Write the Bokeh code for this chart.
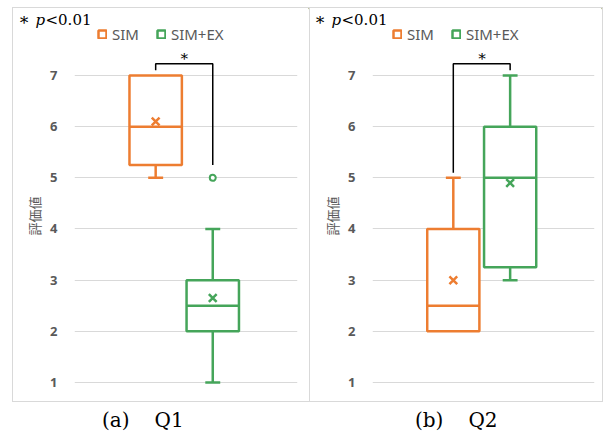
from bokeh.plotting import figure
from bokeh.models import Range1d, FixedTicker, Legend, LegendItem, Label, Div
from bokeh.layouts import row, column
from bokeh.embed import file_html
from bokeh.resources import INLINE
from bokeh.core.properties import value

# ---------------- data ----------------
series = ["SIM", "SIM+EX"]
colors = ["#ED7D31", "#45A55A"]

# Q1 panel
q1_low = [5, 1]
q1_box_lo = [5.25, 2]
q1_median = [6, 2.5]
q1_box_hi = [7, 3]
q1_high = [7, 4]
q1_mean = [6.1, 2.65]
q1_outliers = [[], [5]]
q1_bracket = [7.1, 7.23, 7.23, 5.25]

# Q2 panel
q2_low = [2, 3]
q2_box_lo = [2, 3.25]
q2_median = [2.5, 5]
q2_box_hi = [4, 6]
q2_high = [5, 7]
q2_mean = [3, 4.9]
q2_outliers = [[], []]
q2_bracket = [5.1, 7.23, 7.23, 7.1]

y_ticks = [1, 2, 3, 4, 5, 6, 7]
star_y = 7.39
captions = ["(a)\u3000\u2005Q1", "(b)\u3000\u2005Q2"]
note_parts = ["\u2217", "p", "<0.01"]

# ---------------- layout constants ----------------
CENTER = 0.492
DODGE = 0.128
BOX_W = 0.235
CAP_W = 0.067
GRAY = "#595959"
HEAD_H = 36
MAIN_H = 357
BOTTOM = 14


def header(width, legend_x, note_x):
    h = figure(width=width, height=HEAD_H, output_backend="svg", toolbar_location=None,
               x_range=Range1d(0, 1), y_range=Range1d(0, 1), min_border=0,
               x_axis_location=None, y_axis_location=None, frame_align=False)
    h.outline_line_color = None
    h.grid.visible = False
    # legend-only renderers (their single box lies outside the visible range)
    rs = [h.vbar(x=[5], bottom=[5], top=[6], width=0.1, fill_color="white",
                 line_color=c, line_width=2.5) for c in colors]
    legend = Legend(items=[LegendItem(label=s, renderers=[rs[i]]) for i, s in enumerate(series)],
                    orientation="horizontal", location=(legend_x, 0),
                    background_fill_alpha=0, border_line_color=None,
                    glyph_width=10, glyph_height=10, label_standoff=5, spacing=17,
                    padding=0, margin=0, label_height=16,
                    label_text_font="Noto Sans", label_text_font_size="15px",
                    label_text_color=GRAY)
    h.add_layout(legend)
    offs = [0, 17, 27]
    styles = ["normal", "italic", "normal"]
    sizes = ["17px", "15px", "15px"]
    ys = [26, 25, 25]
    for t, dx, st, sz, yy in zip(note_parts, offs, styles, sizes, ys):
        h.add_layout(Label(x=note_x + dx, y=yy, x_units="screen", y_units="screen",
                           text=t, text_font="DejaVu Serif", text_font_style=st,
                           text_font_size=sz, text_color="black",
                           text_baseline="alphabetic"))
    return h


def panel(low, box_lo, med, box_hi, high, mean, outliers, bracket, width, bl, br):
    p = figure(width=width, height=MAIN_H, output_backend="svg", toolbar_location=None,
               x_range=Range1d(0, 1), y_range=Range1d(0.9023, 7.6055),
               min_border_left=bl, min_border_right=br,
               min_border_top=0, min_border_bottom=BOTTOM,
               x_axis_location=None, title="評価値", title_location="left")
    p.outline_line_color = None
    p.xgrid.visible = False
    p.ygrid.ticker = FixedTicker(ticks=y_ticks)
    p.ygrid.grid_line_color = "#d9d9d9"
    p.yaxis.ticker = FixedTicker(ticks=y_ticks)
    p.yaxis.axis_line_color = None
    p.yaxis.major_tick_line_color = None
    p.yaxis.minor_tick_line_color = None
    p.yaxis.major_label_standoff = 11
    p.yaxis.major_label_text_font = "Noto Sans"
    p.yaxis.major_label_text_font_style = "bold"
    p.yaxis.major_label_text_font_size = "13px"
    p.yaxis.major_label_text_color = GRAY
    p.title.align = "center"
    p.title.offset = -13
    p.title.text_font = "Noto Sans CJK JP"
    p.title.text_font_style = "normal"
    p.title.text_font_size = "13px"
    p.title.text_color = GRAY
    p.title.standoff = 8

    xs = [CENTER - DODGE, CENTER + DODGE]
    for i, c in enumerate(colors):
        x = xs[i]
        if high[i] > box_hi[i]:
            p.segment(x0=[x], y0=[box_hi[i]], x1=[x], y1=[high[i]], line_color=c, line_width=2.5)
            p.segment(x0=[x - CAP_W / 2], y0=[high[i]], x1=[x + CAP_W / 2], y1=[high[i]],
                      line_color=c, line_width=2.5)
        if low[i] < box_lo[i]:
            p.segment(x0=[x], y0=[box_lo[i]], x1=[x], y1=[low[i]], line_color=c, line_width=2.5)
            p.segment(x0=[x - CAP_W / 2], y0=[low[i]], x1=[x + CAP_W / 2], y1=[low[i]],
                      line_color=c, line_width=2.5)
        p.vbar(x=[x], bottom=[box_lo[i]], top=[box_hi[i]], width=BOX_W,
               fill_color="white", line_color=c, line_width=2.5)
        p.segment(x0=[x - BOX_W / 2], y0=[med[i]], x1=[x + BOX_W / 2], y1=[med[i]],
                  line_color=c, line_width=2.5)
        p.scatter(x=[x], y=[mean[i]], marker="x", size=11, line_color=c, line_width=2.5)
        if outliers[i]:
            p.scatter(x=[x] * len(outliers[i]), y=outliers[i], marker="circle", size=6,
                      fill_color="white", line_color=c, line_width=2)

    # significance bracket
    p.line(x=[xs[0], xs[0], xs[1], xs[1]], y=bracket, line_color="black", line_width=1.5)
    p.text(x=[(xs[0] + xs[1]) / 2], y=[star_y], text=["\u2217"], text_align="center",
           text_baseline="middle", text_font=value("DejaVu Serif"), text_font_size="15px",
           text_color="black")
    return p


h1 = header(296, 84, 5)
m1 = panel(q1_low, q1_box_lo, q1_median, q1_box_hi, q1_high, q1_mean, q1_outliers, q1_bracket,
           296, 61, 12)
h2 = header(292, 82, 4)
m2 = panel(q2_low, q2_box_lo, q2_median, q2_box_hi, q2_high, q2_mean, q2_outliers, q2_bracket,
           292, 62, 8)

panel1 = column(h1, m1, styles={"border": "1px solid #d9d9d9"}, margin=(7, 0, 0, 12))
panel2 = column(h2, m2, styles={"border": "1px solid #d9d9d9", "border-left": "none"},
                margin=(7, 0, 0, 0))

cap_style = {"font-family": "DejaVu Serif", "font-size": "20px", "color": "black",
             "line-height": "24px"}
d1 = Div(text=captions[0], width=200, height=26, styles=cap_style, margin=(6, 0, 0, 102))
d2 = Div(text=captions[1], width=150, height=26, styles=cap_style, margin=(6, 0, 0, 113))

layout = column(row(panel1, panel2), row(d1, d2))
open("out.html", "w").write(file_html(layout, INLINE))
